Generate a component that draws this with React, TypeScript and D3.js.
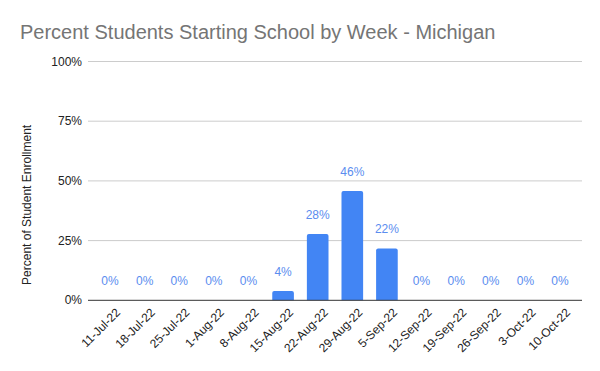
import React from "react";
import * as d3 from "d3";

const categories = ["11-Jul-22","18-Jul-22","25-Jul-22","1-Aug-22","8-Aug-22","15-Aug-22","22-Aug-22","29-Aug-22","5-Sep-22","12-Sep-22","19-Sep-22","26-Sep-22","3-Oct-22","10-Oct-22"];
const values = [0, 0, 0, 0, 0, 3.9, 27.8, 45.8, 21.7, 0, 0, 0, 0, 0];
const yTicks = [0, 25, 50, 75, 100];

const W = 600, H = 371;
const plotLeft = 88, plotRight = 582, plotTop = 61.5, plotBottom = 300.3;
const FONT = "Arial, 'Liberation Sans', sans-serif";

export default function App() {
  const x = d3.scaleBand<string>().domain(categories).range([plotLeft + 4.7, plotRight - 4.7]).paddingInner(0.375).paddingOuter(0.1875);
  const y = d3.scaleLinear().domain([0, 100]).range([plotBottom, plotTop]);
  const y0 = y(0);
  return (
    <svg width={W} height={H} style={{ position: "absolute", left: 0, top: 0, background: "#fff" }} fontFamily={FONT}>
      <rect width={W} height={H} fill="#fff" />
      <text x={20} y={39} fontSize={20} fill="#757575">Percent Students Starting School by Week - Michigan</text>
      {yTicks.map(t => (
        <g key={t}>
          {t !== 0 && <line x1={plotLeft} x2={plotRight} y1={y(t)} y2={y(t)} stroke="#cccccc" strokeWidth={1} />}
          <text x={82} y={y(t) + 4} fontSize={12} fill="#222" textAnchor="end">{t}%</text>
        </g>
      ))}
      <text transform={`translate(31,${(plotTop + y0) / 2 + 24}) rotate(-90)`} fontSize={12} fill="#222" textAnchor="middle">Percent of Student Enrollment</text>
      {categories.map((c, i) => {
        const v = values[i];
        const bx = x(c)!;
        const bw = x.bandwidth();
        const top = y(v);
        const cx = bx + bw / 2;
        return (
          <g key={c}>
            {v > 0 && <path d={`M${bx},${y0} V${top + 2} Q${bx},${top} ${bx + 2},${top} H${bx + bw - 2} Q${bx + bw},${top} ${bx + bw},${top + 2} V${y0} Z`} fill="#4285f4" />}
            <text x={cx} y={top - 15} fontSize={12} fill="#5b8def" textAnchor="middle">{Math.round(v)}%</text>
            <text transform={`translate(${cx + 11},${y0 + 13}) rotate(-45)`} fontSize={12} fill="#222" textAnchor="end">{c}</text>
          </g>
        );
      })}
      <line x1={plotLeft} x2={plotRight} y1={y0} y2={y0} stroke="#333" strokeWidth={1} />
    </svg>
  );
}
